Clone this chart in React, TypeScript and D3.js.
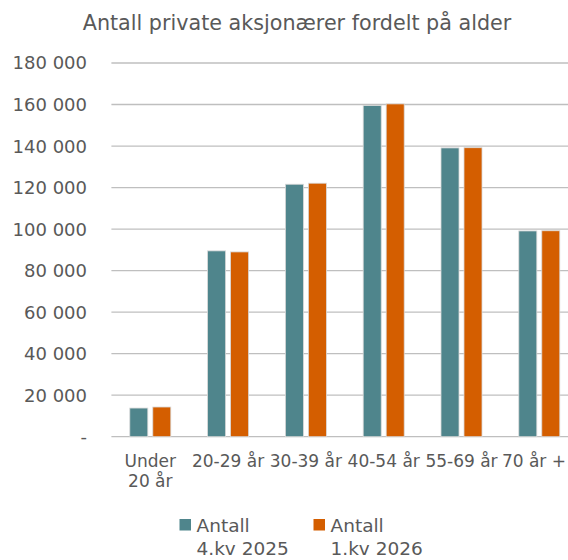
import React, { useEffect, useRef } from 'react';
import * as d3 from 'd3';

const categories = ['Under\n20 år', '20-29 år', '30-39 år', '40-54 år', '55-69 år', '70 år +'];
const seriesNames = ['Antall\n4.kv 2025', 'Antall\n1.kv 2026'];
const q4_2025 = [13800, 89500, 121600, 159500, 139100, 99100];
const q1_2026 = [14300, 89000, 122100, 160300, 139200, 99200];
const yTicks = [0, 20000, 40000, 60000, 80000, 100000, 120000, 140000, 160000, 180000];
const colors = ['#4f858c', '#d45e00'];

const W = 568;
const H = 560;
const FONT = "'DejaVu Sans', sans-serif";
const TEXT = '#595959';

export default function App() {
  const svgRef = useRef<SVGSVGElement>(null);

  useEffect(() => {
    if (!svgRef.current) return;
    const svg = d3.select(svgRef.current);
    svg.selectAll('*').remove();

    const plot = { left: 111.4, right: 578.2, top: 63, bottom: 436.7 };

    const x0 = d3.scaleBand().domain(categories).range([plot.left, plot.right]).padding(0);
    const x1 = d3.scaleBand()
      .domain(seriesNames)
      .range([0, x0.bandwidth()])
      .paddingInner(0.217)
      .paddingOuter(0.8);
    const y = d3.scaleLinear().domain([0, 180000]).range([plot.bottom, plot.top]);

    // Title
    svg.append('text')
      .attr('x', 297)
      .attr('y', 30)
      .attr('text-anchor', 'middle')
      .attr('font-family', FONT)
      .attr('font-size', 20.7)
      .attr('fill', TEXT)
      .text('Antall private aksjonærer fordelt på alder');

    // Gridlines
    svg.append('g')
      .selectAll('line')
      .data(yTicks)
      .join('line')
      .attr('x1', plot.left)
      .attr('x2', W)
      .attr('y1', d => y(d))
      .attr('y2', d => y(d))
      .attr('stroke', '#bfbfbf')
      .attr('stroke-width', 1.3);

    // Y labels
    const fmt = (d: number) => (d === 0 ? '-' : d3.format(',')(d).replace(/,/g, ' '));
    svg.append('g')
      .selectAll('text')
      .data(yTicks)
      .join('text')
      .attr('x', 87)
      .attr('y', d => y(d))
      .attr('dy', '0.36em')
      .attr('text-anchor', 'end')
      .attr('font-family', FONT)
      .attr('font-size', 18)
      .attr('fill', TEXT)
      .text(fmt);

    // Bars
    const series = [q4_2025, q1_2026];
    series.forEach((vals, si) => {
      svg.append('g')
        .selectAll('rect')
        .data(vals)
        .join('rect')
        .attr('x', (_, i) => x0(categories[i])! + x1(seriesNames[si])!)
        .attr('y', d => y(d))
        .attr('width', x1.bandwidth())
        .attr('height', d => y(0) - y(d))
        .attr('fill', colors[si])
        .attr('stroke', '#d9d9d9')
        .attr('stroke-width', 0.8);
    });

    // X labels (shifted in if they would run past the right edge)
    const xl = svg.append('g');
    categories.forEach(c => {
      const lines = c.split('\n');
      let cx = x0(c)! + x0.bandwidth() / 2;
      const t = xl.append('text')
        .attr('y', 467)
        .attr('text-anchor', 'middle')
        .attr('font-family', FONT)
        .attr('font-size', 17)
        .attr('fill', TEXT);
      const spans = lines.map((l, i) =>
        t.append('tspan').attr('dy', i === 0 ? 0 : 20).text(l)
      );
      const len = (t.node() as SVGTextElement).getBBox().width;
      if (cx + len / 2 > W - 2) cx = W - 2 - len / 2;
      spans.forEach(s => s.attr('x', cx));
    });

    // Legend
    const legendX = [179.5, 313.5];
    seriesNames.forEach((s, i) => {
      const g = svg.append('g').attr('transform', `translate(${legendX[i]},0)`);
      g.append('rect')
        .attr('x', 0)
        .attr('y', 519)
        .attr('width', 11.5)
        .attr('height', 11.5)
        .attr('fill', colors[i]);
      const t = g.append('text')
        .attr('x', 17)
        .attr('y', 531.5)
        .attr('font-family', FONT)
        .attr('font-size', 18.5)
        .attr('fill', TEXT);
      s.split('\n').forEach((l, j) => {
        t.append('tspan').attr('x', 17).attr('dy', j === 0 ? 0 : 23.5).text(l);
      });
    });
  }, []);

  return (
    <svg
      ref={svgRef}
      width={W}
      height={H}
      style={{ position: 'absolute', left: 0, top: 0, background: '#fff' }}
    />
  );
}
